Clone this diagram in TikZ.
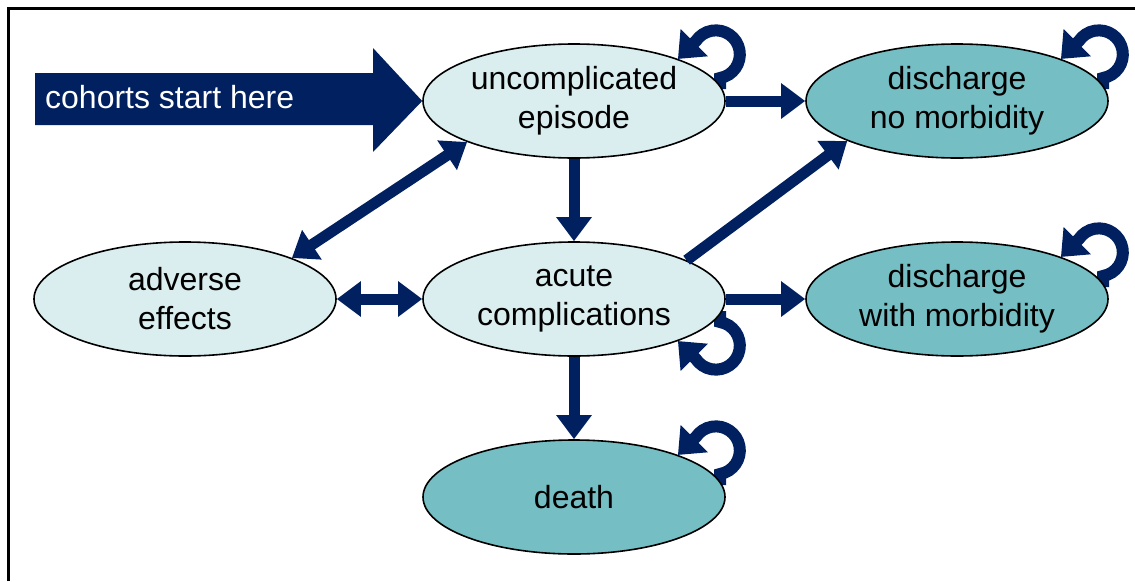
\documentclass[tikz,border=0pt]{standalone}
\usepackage{fontspec}
\setmainfont{Liberation Sans}
\usetikzlibrary{arrows.meta,backgrounds,shapes.geometric}
\definecolor{navy}{RGB}{0,32,96}
\definecolor{lightfill}{RGB}{218,238,240}
\definecolor{tealfill}{RGB}{116,190,196}
\tikzset{
  state/.style={ellipse, draw=black, line width=1.6pt, minimum width=302pt, minimum height=114pt,
    inner sep=0pt, align=center, font=\fontsize{32}{39}\selectfont},
  lightstate/.style={state, fill=lightfill},
  tealstate/.style={state, fill=tealfill},
  flow/.style={draw=navy, line width=11pt, -{Triangle[length=24pt,width=34pt]}},
  twoway/.style={draw=navy, line width=11pt, {Triangle[length=24pt,width=34pt]}-{Triangle[length=24pt,width=34pt]}},
  selfloop/.style={draw=navy, line width=12pt, -{Triangle[length=23pt,width=37pt]}},
  frameline/.style={draw=black, line width=3pt}
}
\begin{document}
\begin{tikzpicture}[x=1pt,y=1pt]
\useasboundingbox (0,0) rectangle (1135,-581);
\draw[frameline] (8,-581) -- (8,-8) -- (1135,-8);

\node[lightstate] (U) at (574,-101) {uncomplicated\\episode};
\node[tealstate] (DN) at (957,-101) {discharge\\no morbidity};
\node[lightstate] (A) at (185,-299) {adverse\\effects};
\node[lightstate] (C) at (574,-299) {acute\\complications};
\node[tealstate] (DW) at (957,-299) {discharge\\with morbidity};
\node[tealstate] (D) at (574,-497) {death};

% start arrow
\fill[navy] (35,-73) -- (373,-73) -- (373,-48) -- (U.west) -- (373,-152) -- (373,-125) -- (35,-125) -- cycle;
\node[anchor=base west, inner sep=0pt, text=white, font=\fontsize{32}{39}\selectfont] (start) at (45,-108) {cohorts start here};

% transitions
\draw[flow] (U.east) -- (DN.west);
\draw[flow] (U.south) -- (C.north);
\draw[flow] (C.east) -- (DW.west);
\draw[flow] (C.south) -- (D.north);
\draw[flow] (C.19) -- (DN.200);
\draw[twoway] (A.east) -- (C.west);
\draw[twoway] (A.21) -- (U.201);

% self loops
\begin{scope}[on background layer]
\draw[selfloop] ([shift={(146,12)}]U.center) -- ++(0,11) arc[start angle=-80, end angle=146, radius=24] -- ++(-18,-18);
\draw[selfloop] ([shift={(146,12)}]DN.center) -- ++(0,11) arc[start angle=-80, end angle=146, radius=24] -- ++(-18,-18);
\draw[selfloop] ([shift={(146,12)}]DW.center) -- ++(0,11) arc[start angle=-80, end angle=146, radius=24] -- ++(-18,-18);
\draw[selfloop] ([shift={(146,12)}]D.center) -- ++(0,11) arc[start angle=-80, end angle=146, radius=24] -- ++(-18,-18);
\draw[selfloop] ([shift={(146,-12)}]C.center) -- ++(0,-11) arc[start angle=80, end angle=-146, radius=24] -- ++(-18,18);
\end{scope}
\end{tikzpicture}
\end{document}
